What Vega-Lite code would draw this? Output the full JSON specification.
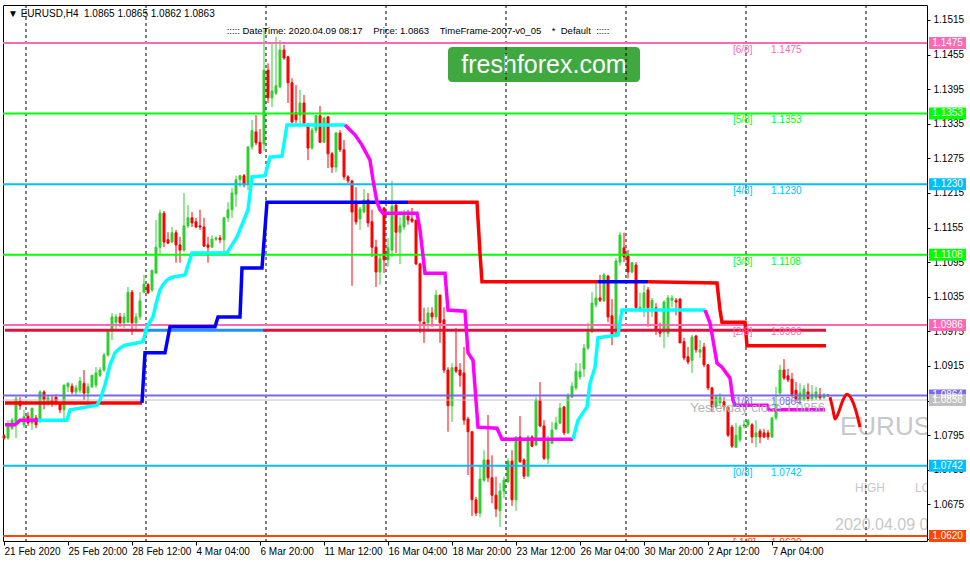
{
"$schema":"https://vega.github.io/schema/vega-lite/v6.json",
"width":924,"height":536,
"autosize":{"type":"none"},
"padding":{"left":3,"top":5,"right":43,"bottom":24},
"background":"#FFFFFF",
"config":{"view":{"stroke":"#000000","strokeWidth":1},"font":"Liberation Sans",
 "axis":{"labelFont":"Liberation Sans","labelFontSize":10,"labelColor":"#000000","tickColor":"#000000","domain":false,"grid":false,"titleOpacity":0,"labelOverlap":false,"labelSeparation":0,"labelBound":false}},
"resolve":{"scale":{"color":"independent"}},
"datasets":{
"candles":[
{"n":0,"o":1.0794,"h":1.0797,"l":1.0787,"c":1.0790},
{"n":1,"o":1.0790,"h":1.0821,"l":1.0787,"c":1.0813},
{"n":2,"o":1.0807,"h":1.0825,"l":1.0804,"c":1.0821},
{"n":3,"o":1.0816,"h":1.0863,"l":1.0790,"c":1.0858},
{"n":4,"o":1.0854,"h":1.0861,"l":1.0839,"c":1.0846},
{"n":5,"o":1.0813,"h":1.0839,"l":1.0808,"c":1.0827},
{"n":6,"o":1.0828,"h":1.0835,"l":1.0811,"c":1.0816},
{"n":7,"o":1.0816,"h":1.0842,"l":1.0804,"c":1.0842},
{"n":8,"o":1.0825,"h":1.0830,"l":1.0807,"c":1.0813},
{"n":9,"o":1.0821,"h":1.0873,"l":1.0816,"c":1.0870},
{"n":10,"o":1.0870,"h":1.0873,"l":1.0840,"c":1.0856},
{"n":11,"o":1.0851,"h":1.0865,"l":1.0846,"c":1.0860},
{"n":12,"o":1.0856,"h":1.0865,"l":1.0844,"c":1.0851},
{"n":13,"o":1.0861,"h":1.0866,"l":1.0847,"c":1.0851},
{"n":14,"o":1.0851,"h":1.0851,"l":1.0833,"c":1.0839},
{"n":15,"o":1.0839,"h":1.0882,"l":1.0821,"c":1.0882},
{"n":16,"o":1.0879,"h":1.0887,"l":1.0870,"c":1.0885},
{"n":17,"o":1.0880,"h":1.0885,"l":1.0866,"c":1.0870},
{"n":18,"o":1.0870,"h":1.0882,"l":1.0865,"c":1.0877},
{"n":19,"o":1.0873,"h":1.0896,"l":1.0868,"c":1.0889},
{"n":20,"o":1.0885,"h":1.0908,"l":1.0856,"c":1.0868},
{"n":21,"o":1.0868,"h":1.0885,"l":1.0853,"c":1.0879},
{"n":22,"o":1.0879,"h":1.0899,"l":1.0877,"c":1.0899},
{"n":23,"o":1.0882,"h":1.0913,"l":1.0877,"c":1.0903},
{"n":24,"o":1.0899,"h":1.0913,"l":1.0896,"c":1.0908},
{"n":25,"o":1.0908,"h":1.0938,"l":1.0905,"c":1.0934},
{"n":26,"o":1.0934,"h":1.0977,"l":1.0931,"c":1.0974},
{"n":27,"o":1.0977,"h":1.1007,"l":1.0960,"c":1.1000},
{"n":28,"o":1.0991,"h":1.1005,"l":1.0977,"c":1.1000},
{"n":29,"o":1.1000,"h":1.1007,"l":1.0983,"c":1.0990},
{"n":30,"o":1.0990,"h":1.1007,"l":1.0981,"c":1.1000},
{"n":31,"o":1.0991,"h":1.1052,"l":1.0990,"c":1.1043},
{"n":32,"o":1.1043,"h":1.1047,"l":1.0969,"c":1.0990},
{"n":33,"o":1.0990,"h":1.1007,"l":1.0977,"c":1.1000},
{"n":34,"o":1.1000,"h":1.1043,"l":1.0995,"c":1.1028},
{"n":35,"o":1.1043,"h":1.1073,"l":1.1042,"c":1.1057},
{"n":36,"o":1.1056,"h":1.1059,"l":1.1040,"c":1.1042},
{"n":37,"o":1.1047,"h":1.1081,"l":1.1043,"c":1.1081},
{"n":38,"o":1.1076,"h":1.1168,"l":1.1076,"c":1.1121},
{"n":39,"o":1.1121,"h":1.1186,"l":1.1108,"c":1.1180},
{"n":40,"o":1.1180,"h":1.1184,"l":1.1121,"c":1.1130},
{"n":41,"o":1.1134,"h":1.1147,"l":1.1128,"c":1.1128},
{"n":42,"o":1.1130,"h":1.1156,"l":1.1128,"c":1.1146},
{"n":43,"o":1.1146,"h":1.1151,"l":1.1094,"c":1.1125},
{"n":44,"o":1.1125,"h":1.1139,"l":1.1094,"c":1.1116},
{"n":45,"o":1.1116,"h":1.1215,"l":1.1113,"c":1.1158},
{"n":46,"o":1.1158,"h":1.1194,"l":1.1154,"c":1.1172},
{"n":47,"o":1.1172,"h":1.1182,"l":1.1156,"c":1.1163},
{"n":48,"o":1.1165,"h":1.1172,"l":1.1154,"c":1.1156},
{"n":49,"o":1.1158,"h":1.1186,"l":1.1151,"c":1.1156},
{"n":50,"o":1.1156,"h":1.1172,"l":1.1121,"c":1.1123},
{"n":51,"o":1.1125,"h":1.1139,"l":1.1094,"c":1.1121},
{"n":52,"o":1.1121,"h":1.1142,"l":1.1121,"c":1.1135},
{"n":53,"o":1.1135,"h":1.1140,"l":1.1132,"c":1.1137},
{"n":54,"o":1.1137,"h":1.1142,"l":1.1128,"c":1.1134},
{"n":55,"o":1.1134,"h":1.1173,"l":1.1113,"c":1.1172},
{"n":56,"o":1.1172,"h":1.1199,"l":1.1165,"c":1.1186},
{"n":57,"o":1.1186,"h":1.1224,"l":1.1172,"c":1.1215},
{"n":58,"o":1.1213,"h":1.1245,"l":1.1191,"c":1.1238},
{"n":59,"o":1.1238,"h":1.1246,"l":1.1225,"c":1.1245},
{"n":60,"o":1.1245,"h":1.1248,"l":1.1225,"c":1.1229},
{"n":61,"o":1.1232,"h":1.1295,"l":1.1220,"c":1.1295},
{"n":62,"o":1.1295,"h":1.1342,"l":1.1290,"c":1.1323},
{"n":63,"o":1.1321,"h":1.1350,"l":1.1298,"c":1.1302},
{"n":64,"o":1.1303,"h":1.1326,"l":1.1283,"c":1.1284},
{"n":65,"o":1.1300,"h":1.1498,"l":1.1288,"c":1.1428},
{"n":66,"o":1.1428,"h":1.1440,"l":1.1371,"c":1.1380},
{"n":67,"o":1.1380,"h":1.1475,"l":1.1364,"c":1.1392},
{"n":68,"o":1.1388,"h":1.1486,"l":1.1385,"c":1.1401},
{"n":69,"o":1.1399,"h":1.1480,"l":1.1397,"c":1.1463},
{"n":70,"o":1.1463,"h":1.1472,"l":1.1446,"c":1.1449},
{"n":71,"o":1.1451,"h":1.1453,"l":1.1371,"c":1.1406},
{"n":72,"o":1.1406,"h":1.1414,"l":1.1336,"c":1.1338},
{"n":73,"o":1.1354,"h":1.1402,"l":1.1336,"c":1.1342},
{"n":74,"o":1.1350,"h":1.1394,"l":1.1333,"c":1.1371},
{"n":75,"o":1.1371,"h":1.1385,"l":1.1333,"c":1.1336},
{"n":76,"o":1.1333,"h":1.1336,"l":1.1272,"c":1.1293},
{"n":77,"o":1.1293,"h":1.1328,"l":1.1290,"c":1.1324},
{"n":78,"o":1.1324,"h":1.1350,"l":1.1319,"c":1.1349},
{"n":79,"o":1.1349,"h":1.1366,"l":1.1302,"c":1.1303},
{"n":80,"o":1.1303,"h":1.1347,"l":1.1302,"c":1.1345},
{"n":81,"o":1.1347,"h":1.1349,"l":1.1258,"c":1.1283},
{"n":82,"o":1.1283,"h":1.1286,"l":1.1250,"c":1.1260},
{"n":83,"o":1.1260,"h":1.1321,"l":1.1251,"c":1.1319},
{"n":84,"o":1.1319,"h":1.1324,"l":1.1286,"c":1.1290},
{"n":85,"o":1.1290,"h":1.1307,"l":1.1238,"c":1.1243},
{"n":86,"o":1.1243,"h":1.1246,"l":1.1232,"c":1.1236},
{"n":87,"o":1.1236,"h":1.1238,"l":1.1054,"c":1.1182},
{"n":88,"o":1.1199,"h":1.1225,"l":1.1160,"c":1.1165},
{"n":89,"o":1.1170,"h":1.1191,"l":1.1151,"c":1.1187},
{"n":90,"o":1.1182,"h":1.1222,"l":1.1180,"c":1.1203},
{"n":91,"o":1.1203,"h":1.1215,"l":1.1156,"c":1.1163},
{"n":92,"o":1.1165,"h":1.1186,"l":1.1104,"c":1.1121},
{"n":93,"o":1.1121,"h":1.1134,"l":1.1052,"c":1.1078},
{"n":94,"o":1.1078,"h":1.1108,"l":1.1056,"c":1.1101},
{"n":95,"o":1.1189,"h":1.1191,"l":1.1076,"c":1.1099},
{"n":96,"o":1.1099,"h":1.1137,"l":1.1087,"c":1.1120},
{"n":97,"o":1.1116,"h":1.1236,"l":1.1104,"c":1.1192},
{"n":98,"o":1.1194,"h":1.1199,"l":1.1111,"c":1.1147},
{"n":99,"o":1.1147,"h":1.1173,"l":1.1092,"c":1.1158},
{"n":100,"o":1.1156,"h":1.1186,"l":1.1151,"c":1.1180},
{"n":101,"o":1.1175,"h":1.1186,"l":1.1160,"c":1.1168},
{"n":102,"o":1.1170,"h":1.1189,"l":1.1163,"c":1.1166},
{"n":103,"o":1.1168,"h":1.1168,"l":1.1090,"c":1.1092},
{"n":104,"o":1.1092,"h":1.1094,"l":1.0972,"c":1.0993},
{"n":105,"o":1.0991,"h":1.1016,"l":1.0955,"c":1.0988},
{"n":106,"o":1.0990,"h":1.1017,"l":1.0977,"c":1.1007},
{"n":107,"o":1.1007,"h":1.1017,"l":1.0983,"c":1.1000},
{"n":108,"o":1.1000,"h":1.1047,"l":1.0995,"c":1.1038},
{"n":109,"o":1.1038,"h":1.1038,"l":1.0955,"c":1.0990},
{"n":110,"o":1.0995,"h":1.1017,"l":1.0903,"c":1.0908},
{"n":111,"o":1.0908,"h":1.0913,"l":1.0801,"c":1.0846},
{"n":112,"o":1.0846,"h":1.0920,"l":1.0818,"c":1.0912},
{"n":113,"o":1.0913,"h":1.0981,"l":1.0903,"c":1.0906},
{"n":114,"o":1.0908,"h":1.0920,"l":1.0879,"c":1.0899},
{"n":115,"o":1.0903,"h":1.0948,"l":1.0813,"c":1.0821},
{"n":116,"o":1.0823,"h":1.0827,"l":1.0726,"c":1.0801},
{"n":117,"o":1.0801,"h":1.0802,"l":1.0655,"c":1.0683},
{"n":118,"o":1.0683,"h":1.0688,"l":1.0655,"c":1.0660},
{"n":119,"o":1.0660,"h":1.0743,"l":1.0653,"c":1.0719},
{"n":120,"o":1.0717,"h":1.0769,"l":1.0714,"c":1.0752},
{"n":121,"o":1.0752,"h":1.0830,"l":1.0714,"c":1.0721},
{"n":122,"o":1.0721,"h":1.0760,"l":1.0677,"c":1.0691},
{"n":123,"o":1.0691,"h":1.0723,"l":1.0653,"c":1.0667},
{"n":124,"o":1.0664,"h":1.0712,"l":1.0636,"c":1.0698},
{"n":125,"o":1.0698,"h":1.0723,"l":1.0686,"c":1.0717},
{"n":126,"o":1.0714,"h":1.0755,"l":1.0712,"c":1.0750},
{"n":127,"o":1.0750,"h":1.0769,"l":1.0672,"c":1.0683},
{"n":128,"o":1.0683,"h":1.0792,"l":1.0664,"c":1.0792},
{"n":129,"o":1.0792,"h":1.0828,"l":1.0747,"c":1.0749},
{"n":130,"o":1.0752,"h":1.0755,"l":1.0719,"c":1.0724},
{"n":131,"o":1.0724,"h":1.0795,"l":1.0723,"c":1.0792},
{"n":132,"o":1.0792,"h":1.0795,"l":1.0774,"c":1.0776},
{"n":133,"o":1.0778,"h":1.0861,"l":1.0776,"c":1.0856},
{"n":134,"o":1.0856,"h":1.0887,"l":1.0809,"c":1.0811},
{"n":135,"o":1.0811,"h":1.0821,"l":1.0752,"c":1.0755},
{"n":136,"o":1.0754,"h":1.0794,"l":1.0745,"c":1.0785},
{"n":137,"o":1.0781,"h":1.0818,"l":1.0781,"c":1.0804},
{"n":138,"o":1.0806,"h":1.0827,"l":1.0804,"c":1.0816},
{"n":139,"o":1.0816,"h":1.0851,"l":1.0814,"c":1.0842},
{"n":140,"o":1.0844,"h":1.0846,"l":1.0795,"c":1.0799},
{"n":141,"o":1.0799,"h":1.0868,"l":1.0797,"c":1.0863},
{"n":142,"o":1.0861,"h":1.0887,"l":1.0860,"c":1.0880},
{"n":143,"o":1.0877,"h":1.0920,"l":1.0873,"c":1.0906},
{"n":144,"o":1.0896,"h":1.0920,"l":1.0891,"c":1.0905},
{"n":145,"o":1.0910,"h":1.0953,"l":1.0896,"c":1.0946},
{"n":146,"o":1.0946,"h":1.0990,"l":1.0943,"c":1.0974},
{"n":147,"o":1.0974,"h":1.1043,"l":1.0972,"c":1.1024},
{"n":148,"o":1.1021,"h":1.1059,"l":1.1017,"c":1.1033},
{"n":149,"o":1.1033,"h":1.1073,"l":1.1026,"c":1.1029},
{"n":150,"o":1.1028,"h":1.1076,"l":1.1026,"c":1.1073},
{"n":151,"o":1.1071,"h":1.1073,"l":1.0991,"c":1.1000},
{"n":152,"o":1.1002,"h":1.1031,"l":1.0951,"c":1.0969},
{"n":153,"o":1.0969,"h":1.1102,"l":1.0965,"c":1.1097},
{"n":154,"o":1.1095,"h":1.1147,"l":1.1089,"c":1.1142},
{"n":155,"o":1.1120,"h":1.1146,"l":1.1095,"c":1.1104},
{"n":156,"o":1.1106,"h":1.1116,"l":1.1067,"c":1.1078},
{"n":157,"o":1.1078,"h":1.1095,"l":1.1076,"c":1.1094},
{"n":158,"o":1.1090,"h":1.1095,"l":1.1012,"c":1.1016},
{"n":159,"o":1.1012,"h":1.1042,"l":1.1009,"c":1.1017},
{"n":160,"o":1.1016,"h":1.1056,"l":1.1000,"c":1.1042},
{"n":161,"o":1.1047,"h":1.1052,"l":1.0983,"c":1.1016},
{"n":162,"o":1.1016,"h":1.1033,"l":1.1000,"c":1.1029},
{"n":163,"o":1.1016,"h":1.1024,"l":1.0969,"c":1.0977},
{"n":164,"o":1.0977,"h":1.0990,"l":1.0965,"c":1.0972},
{"n":165,"o":1.0974,"h":1.1029,"l":1.0946,"c":1.1026},
{"n":166,"o":1.0972,"h":1.1038,"l":1.0965,"c":1.1033},
{"n":167,"o":1.1029,"h":1.1038,"l":1.1017,"c":1.1033},
{"n":168,"o":1.1029,"h":1.1033,"l":1.1003,"c":1.1026},
{"n":169,"o":1.1031,"h":1.1033,"l":1.0955,"c":1.0955},
{"n":170,"o":1.0957,"h":1.0964,"l":1.0925,"c":1.0929},
{"n":171,"o":1.0931,"h":1.0948,"l":1.0918,"c":1.0922},
{"n":172,"o":1.0925,"h":1.0969,"l":1.0903,"c":1.0965},
{"n":173,"o":1.0967,"h":1.0969,"l":1.0938,"c":1.0943},
{"n":174,"o":1.0939,"h":1.0960,"l":1.0929,"c":1.0943},
{"n":175,"o":1.0948,"h":1.0955,"l":1.0913,"c":1.0917},
{"n":176,"o":1.0917,"h":1.0918,"l":1.0873,"c":1.0877},
{"n":177,"o":1.0877,"h":1.0879,"l":1.0835,"c":1.0844},
{"n":178,"o":1.0844,"h":1.0863,"l":1.0842,"c":1.0861},
{"n":179,"o":1.0851,"h":1.0868,"l":1.0847,"c":1.0860},
{"n":180,"o":1.0853,"h":1.0861,"l":1.0839,"c":1.0844},
{"n":181,"o":1.0844,"h":1.0846,"l":1.0792,"c":1.0795},
{"n":182,"o":1.0809,"h":1.0813,"l":1.0773,"c":1.0776},
{"n":183,"o":1.0774,"h":1.0816,"l":1.0773,"c":1.0795},
{"n":184,"o":1.0787,"h":1.0813,"l":1.0783,"c":1.0809},
{"n":185,"o":1.0811,"h":1.0821,"l":1.0807,"c":1.0813},
{"n":186,"o":1.0813,"h":1.0823,"l":1.0809,"c":1.0820},
{"n":187,"o":1.0813,"h":1.0816,"l":1.0781,"c":1.0792},
{"n":188,"o":1.0792,"h":1.0821,"l":1.0774,"c":1.0799},
{"n":189,"o":1.0802,"h":1.0806,"l":1.0781,"c":1.0792},
{"n":190,"o":1.0799,"h":1.0806,"l":1.0790,"c":1.0792},
{"n":191,"o":1.0799,"h":1.0804,"l":1.0787,"c":1.0792},
{"n":192,"o":1.0792,"h":1.0827,"l":1.0790,"c":1.0825},
{"n":193,"o":1.0825,"h":1.0879,"l":1.0821,"c":1.0847},
{"n":194,"o":1.0868,"h":1.0917,"l":1.0865,"c":1.0908},
{"n":195,"o":1.0908,"h":1.0927,"l":1.0891,"c":1.0894},
{"n":196,"o":1.0898,"h":1.0910,"l":1.0887,"c":1.0891},
{"n":197,"o":1.0892,"h":1.0903,"l":1.0861,"c":1.0865},
{"n":198,"o":1.0873,"h":1.0887,"l":1.0854,"c":1.0856},
{"n":199,"o":1.0856,"h":1.0885,"l":1.0853,"c":1.0868},
{"n":200,"o":1.0856,"h":1.0882,"l":1.0854,"c":1.0875},
{"n":201,"o":1.0870,"h":1.0885,"l":1.0854,"c":1.0858},
{"n":202,"o":1.0858,"h":1.0882,"l":1.0854,"c":1.0866},
{"n":203,"o":1.0860,"h":1.0879,"l":1.0856,"c":1.0870},
{"n":204,"o":1.0865,"h":1.0877,"l":1.0856,"c":1.0860},
{"n":205,"o":1.0860,"h":1.0868,"l":1.0858,"c":1.0865},
{"n":206,"o":1.0865,"h":1.0865,"l":1.0862,"c":1.0863}
],
"grid":[{"n":5.5},{"n":35.5},{"n":65.5},{"n":95.5},{"n":125.5},{"n":155.5},{"n":185.5},{"n":215.5}],
"levels":[
{"lvl":"[6/8]","p":1.1475},{"lvl":"[5/8]","p":1.1353},{"lvl":"[4/8]","p":1.1230},{"lvl":"[3/8]","p":1.1108},
{"lvl":"[2/8]","p":1.0986},{"lvl":"[1/8]","p":1.0864},{"lvl":"[0/8]","p":1.0742},{"lvl":"[-1/8]","p":1.0620},
{"lvl":"bid","p":1.0856}
],
"daily":[
{"n1":0.25,"n2":34.75,"p":1.0977,"dir":"down"},
{"n1":34.75,"n2":64.75,"p":1.0977,"dir":"up"},
{"n1":64.75,"n2":205.5,"p":1.0977,"dir":"down"}
],
"slow":[
{"seg":"b1","dir":"down","n":0.25,"p":1.0851},{"seg":"b1","dir":"down","n":34.5,"p":1.0851},
{"seg":"b2","dir":"up","n":34.5,"p":1.0851},{"seg":"b2","dir":"up","n":35.25,"p":1.0938},{"seg":"b2","dir":"up","n":40.25,"p":1.0938},{"seg":"b2","dir":"up","n":41.5,"p":1.0983},{"seg":"b2","dir":"up","n":52.75,"p":1.0983},{"seg":"b2","dir":"up","n":53.5,"p":1.1000},{"seg":"b2","dir":"up","n":59,"p":1.1000},{"seg":"b2","dir":"up","n":59.5,"p":1.1085},{"seg":"b2","dir":"up","n":64.5,"p":1.1085},{"seg":"b2","dir":"up","n":65.75,"p":1.1199},{"seg":"b2","dir":"up","n":101,"p":1.1199},
{"seg":"b3","dir":"down","n":101,"p":1.1199},{"seg":"b3","dir":"down","n":118.25,"p":1.1199},{"seg":"b3","dir":"down","n":119,"p":1.1111},{"seg":"b3","dir":"down","n":119.5,"p":1.1061},{"seg":"b3","dir":"down","n":148.5,"p":1.1061},
{"seg":"b4","dir":"up","n":148.5,"p":1.1061},{"seg":"b4","dir":"up","n":161,"p":1.1061},
{"seg":"b5","dir":"down","n":161,"p":1.1061},{"seg":"b5","dir":"down","n":178.25,"p":1.1059},{"seg":"b5","dir":"down","n":179,"p":1.1012},{"seg":"b5","dir":"down","n":179.5,"p":1.0991},{"seg":"b5","dir":"down","n":185.25,"p":1.0991},{"seg":"b5","dir":"down","n":185.75,"p":1.0950},{"seg":"b5","dir":"down","n":205.5,"p":1.0950}
],
"fast":[
{"seg":"a1","dir":"down","n":0.25,"p":1.0813},{"seg":"a1","dir":"down","n":2.75,"p":1.0813},{"seg":"a1","dir":"down","n":4,"p":1.0821},{"seg":"a1","dir":"down","n":8.5,"p":1.0821},
{"seg":"a2","dir":"up","n":8.5,"p":1.0821},{"seg":"a2","dir":"up","n":15.75,"p":1.0821},{"seg":"a2","dir":"up","n":16.5,"p":1.0839},{"seg":"a2","dir":"up","n":23.25,"p":1.0847},{"seg":"a2","dir":"up","n":24,"p":1.0856},{"seg":"a2","dir":"up","n":25.25,"p":1.0882},{"seg":"a2","dir":"up","n":26.5,"p":1.0917},{"seg":"a2","dir":"up","n":27.75,"p":1.0938},{"seg":"a2","dir":"up","n":29,"p":1.0946},{"seg":"a2","dir":"up","n":30.25,"p":1.0951},{"seg":"a2","dir":"up","n":33.25,"p":1.0955},{"seg":"a2","dir":"up","n":34.75,"p":1.0957},{"seg":"a2","dir":"up","n":35.75,"p":1.0983},{"seg":"a2","dir":"up","n":37.25,"p":1.1000},{"seg":"a2","dir":"up","n":38.25,"p":1.1029},{"seg":"a2","dir":"up","n":39,"p":1.1047},{"seg":"a2","dir":"up","n":39.75,"p":1.1056},{"seg":"a2","dir":"up","n":40.75,"p":1.1064},{"seg":"a2","dir":"up","n":42,"p":1.1069},{"seg":"a2","dir":"up","n":45.25,"p":1.1073},{"seg":"a2","dir":"up","n":47,"p":1.1111},{"seg":"a2","dir":"up","n":55.75,"p":1.1111},{"seg":"a2","dir":"up","n":57,"p":1.1125},{"seg":"a2","dir":"up","n":58.25,"p":1.1139},{"seg":"a2","dir":"up","n":59.5,"p":1.1160},{"seg":"a2","dir":"up","n":61,"p":1.1186},{"seg":"a2","dir":"up","n":62,"p":1.1243},{"seg":"a2","dir":"up","n":65.25,"p":1.1245},{"seg":"a2","dir":"up","n":66.5,"p":1.1277},{"seg":"a2","dir":"up","n":69.5,"p":1.1279},{"seg":"a2","dir":"up","n":70.75,"p":1.1333},{"seg":"a2","dir":"up","n":85.25,"p":1.1333},
{"seg":"a3","dir":"down","n":85.25,"p":1.1333},{"seg":"a3","dir":"down","n":87.75,"p":1.1316},{"seg":"a3","dir":"down","n":89.5,"p":1.1298},{"seg":"a3","dir":"down","n":91.5,"p":1.1272},{"seg":"a3","dir":"down","n":92.25,"p":1.1238},{"seg":"a3","dir":"down","n":93.25,"p":1.1199},{"seg":"a3","dir":"down","n":94,"p":1.1186},{"seg":"a3","dir":"down","n":94.75,"p":1.1180},{"seg":"a3","dir":"down","n":103.25,"p":1.1180},{"seg":"a3","dir":"down","n":104,"p":1.1151},{"seg":"a3","dir":"down","n":105.25,"p":1.1076},{"seg":"a3","dir":"down","n":110.25,"p":1.1076},{"seg":"a3","dir":"down","n":111,"p":1.1012},{"seg":"a3","dir":"down","n":115.25,"p":1.1010},{"seg":"a3","dir":"down","n":116,"p":1.0938},{"seg":"a3","dir":"down","n":117.25,"p":1.0925},{"seg":"a3","dir":"down","n":118.5,"p":1.0809},{"seg":"a3","dir":"down","n":123.25,"p":1.0807},{"seg":"a3","dir":"down","n":124.5,"p":1.0788},{"seg":"a3","dir":"down","n":142.25,"p":1.0788},
{"seg":"a4","dir":"up","n":142.25,"p":1.0788},{"seg":"a4","dir":"up","n":143.5,"p":1.0821},{"seg":"a4","dir":"up","n":145.75,"p":1.0844},{"seg":"a4","dir":"up","n":146.5,"p":1.0885},{"seg":"a4","dir":"up","n":147.75,"p":1.0913},{"seg":"a4","dir":"up","n":148.5,"p":1.0964},{"seg":"a4","dir":"up","n":153.5,"p":1.0969},{"seg":"a4","dir":"up","n":154.5,"p":1.1012},{"seg":"a4","dir":"up","n":175.25,"p":1.1012},
{"seg":"a5","dir":"down","n":175.25,"p":1.1012},{"seg":"a5","dir":"down","n":176.5,"p":1.0990},{"seg":"a5","dir":"down","n":178.25,"p":1.0920},{"seg":"a5","dir":"down","n":179.5,"p":1.0913},{"seg":"a5","dir":"down","n":181.5,"p":1.0894},{"seg":"a5","dir":"down","n":182.25,"p":1.0856},{"seg":"a5","dir":"down","n":182.75,"p":1.0847},{"seg":"a5","dir":"down","n":190.75,"p":1.0847},{"seg":"a5","dir":"down","n":191.25,"p":1.0839},{"seg":"a5","dir":"down","n":205.25,"p":1.0839}
],
"fc":[
{"n":206.5,"p":1.0861},{"n":207.25,"p":1.0839},{"n":207.75,"p":1.0823},{"n":208.5,"p":1.0832},{"n":209.75,"p":1.0856},{"n":210.75,"p":1.0866},{"n":212,"p":1.0856},{"n":213,"p":1.0837},{"n":214,"p":1.0809}
]
},
"layer":[
{"data":{"name":"candles"},
 "mark":{"type":"rule","strokeWidth":1},
 "encoding":{
  "x":{"field":"n","type":"quantitative","scale":{"domain":[-0.25,230.75],"nice":false,"zero":false,"padding":0},
   "axis":{"orient":"bottom","values":[0,16,32,48,64,80,96,112,128,144,160,176,192],"tickCount":30,"labelExpr":"['21 Feb 2020','25 Feb 20:00','28 Feb 12:00','4 Mar 04:00','6 Mar 20:00','11 Mar 12:00','16 Mar 04:00','18 Mar 20:00','23 Mar 12:00','26 Mar 04:00','30 Mar 20:00','2 Apr 12:00','7 Apr 04:00'][round(datum.value/16)]",
   "labelAlign":"left","labelBaseline":"top","labelPadding":1,"tickSize":4,"labelOverlap":false,"labelFlush":false,"title":""}},
  "y":{"field":"l","type":"quantitative","scale":{"domain":[1.061153,1.154101],"nice":false,"zero":false,"padding":0},
   "axis":{"orient":"right","values":[1.0615,1.0675,1.0735,1.0795,1.0855,1.0915,1.0975,1.1035,1.1095,1.1155,1.1215,1.1275,1.1335,1.1395,1.1455,1.1515],"tickCount":30,"format":".4f","tickSize":3,"labelPadding":3,"labelOverlap":false,"labelFlush":false,"labelBound":false,"labelSeparation":0,"title":""}},
  "y2":{"field":"h"},
  "color":{"condition":{"test":"datum.c >= datum.o","value":"#32CD32"},"value":"#FF0000"}}},
{"data":{"name":"candles"},
 "mark":{"type":"bar","width":2,"strokeWidth":1},
 "encoding":{
  "x":{"field":"n","type":"quantitative","scale":{"domain":[-0.25,230.75],"nice":false,"zero":false,"padding":0}},
  "y":{"field":"o","type":"quantitative","scale":{"domain":[1.061153,1.154101],"nice":false,"zero":false,"padding":0}},
  "y2":{"field":"c"},
  "color":{"condition":{"test":"datum.c >= datum.o","value":"#32CD32"},"value":"#FF0000"},
  "stroke":{"condition":{"test":"datum.c >= datum.o","value":"#32CD32"},"value":"#FF0000"}}},
{"data":{"values":[{"label":"freshforex.com"}]},
 "mark":{"type":"rect","color":"#3FA93F","cornerRadius":4},
 "encoding":{"x":{"datum":111,"type":"quantitative"},"x2":{"datum":159},
 "y":{"datum":1.14682,"type":"quantitative"},"y2":{"datum":1.14075}}},
{"data":{"values":[{"label":"freshforex.com"}]},
 "mark":{"type":"text","color":"#FFFFFF","fontSize":25,"align":"center","baseline":"middle","font":"Liberation Sans"},
 "encoding":{"x":{"datum":135,"type":"quantitative"},"y":{"datum":1.14378,"type":"quantitative"},"text":{"field":"label"}}},
{"data":{"values":[{"label":"EURUSD"}]},
 "mark":{"type":"text","color":"#C8C8C8","fontSize":26,"align":"left","baseline":"middle","clip":true},
 "encoding":{"x":{"datum":209,"type":"quantitative"},"y":{"datum":1.0809,"type":"quantitative"},"text":{"field":"label"}}},
{"data":{"values":[{"label":"HIGH","n":212.75},{"label":"LOW","n":227.75}]},
 "mark":{"type":"text","color":"#C8C8C8","fontSize":12,"align":"left","baseline":"middle","clip":true},
 "encoding":{"x":{"field":"n","type":"quantitative"},"y":{"datum":1.0703,"type":"quantitative"},"text":{"field":"label"}}},
{"data":{"values":[{"label":"2020.04.09 08:17"}]},
 "mark":{"type":"text","color":"#C8C8C8","fontSize":16,"align":"left","baseline":"middle","clip":true},
 "encoding":{"x":{"datum":207.75,"type":"quantitative"},"y":{"datum":1.0639,"type":"quantitative"},"text":{"field":"label"}}},
{"data":{"name":"grid"},
 "mark":{"type":"rule","color":"#000000","strokeWidth":1,"strokeDash":[3,3]},
 "encoding":{"x":{"field":"n","type":"quantitative"}}},
{"data":{"name":"levels"},
 "transform":[{"filter":"datum.lvl != 'bid'"}],
 "mark":{"type":"rule","strokeWidth":2},
 "encoding":{
  "y":{"field":"p","type":"quantitative"},
  "color":{"field":"lvl","type":"nominal","legend":null,"scale":{"domain":["[6/8]","[5/8]","[4/8]","[3/8]","[2/8]","[1/8]","[0/8]","[-1/8]","bid"],"range":["#FF69B4","#00FF00","#00BFFF","#00FF00","#FF69B4","#7B68EE","#00BFFF","#FF4500","#C0C0C0"]}}}},
{"data":{"name":"levels"},
 "transform":[{"filter":"datum.lvl == 'bid'"}],
 "mark":{"type":"rule","strokeWidth":1,"color":"#C0C0C0"},
 "encoding":{"y":{"field":"p","type":"quantitative"}}},
{"data":{"name":"daily"},
 "mark":{"type":"rule","strokeWidth":3},
 "encoding":{
  "x":{"field":"n1","type":"quantitative"},"x2":{"field":"n2"},
  "y":{"field":"p","type":"quantitative"},
  "color":{"field":"dir","type":"nominal","legend":null,"scale":{"domain":["up","down"],"range":["#1E90FF","#DC143C"]}}}},
{"data":{"name":"slow"},
 "mark":{"type":"line","strokeWidth":3.5},
 "encoding":{
  "x":{"field":"n","type":"quantitative"},
  "y":{"field":"p","type":"quantitative"},
  "detail":{"field":"seg"},
  "color":{"field":"dir","type":"nominal","legend":null,"scale":{"domain":["up","down"],"range":["#0000FF","#FF0000"]}}}},
{"data":{"name":"fast"},
 "mark":{"type":"line","strokeWidth":3.5},
 "encoding":{
  "x":{"field":"n","type":"quantitative"},
  "y":{"field":"p","type":"quantitative"},
  "detail":{"field":"seg"},
  "color":{"field":"dir","type":"nominal","legend":null,"scale":{"domain":["up","down"],"range":["#00FFFF","#FF00FF"]}}}},
{"data":{"name":"fc"},
 "mark":{"type":"line","strokeWidth":3,"color":"#FF0000","interpolate":"monotone"},
 "encoding":{"x":{"field":"n","type":"quantitative"},"y":{"field":"p","type":"quantitative"}}},
{"data":{"values":[{"label":"Yesterday close 1.0856"}]},
 "mark":{"type":"text","color":"#B4B4B4","fontSize":13,"align":"right","baseline":"middle"},
 "encoding":{"x":{"datum":205.25,"type":"quantitative"},"y":{"datum":1.0843,"type":"quantitative"},"text":{"field":"label"}}},
{"data":{"name":"levels"},
 "transform":[{"filter":"datum.lvl != 'bid'"}],
 "mark":{"type":"text","fontSize":10,"align":"left","baseline":"top","dy":2,"clip":true},
 "encoding":{
  "x":{"datum":182.25,"type":"quantitative"},
  "y":{"field":"p","type":"quantitative"},
  "text":{"field":"lvl"},
  "color":{"field":"lvl","type":"nominal","legend":null,"scale":{"domain":["[6/8]","[5/8]","[4/8]","[3/8]","[2/8]","[1/8]","[0/8]","[-1/8]","bid"],"range":["#FF69B4","#00FF00","#00BFFF","#00FF00","#FF69B4","#7B68EE","#00BFFF","#FF4500","#C0C0C0"]}}}},
{"data":{"name":"levels"},
 "transform":[{"filter":"datum.lvl != 'bid'"}],
 "mark":{"type":"text","fontSize":10,"align":"left","baseline":"top","dy":2,"clip":true},
 "encoding":{
  "x":{"datum":191.75,"type":"quantitative"},
  "y":{"field":"p","type":"quantitative"},
  "text":{"field":"p","type":"quantitative","format":".4f"},
  "color":{"field":"lvl","type":"nominal","legend":null,"scale":{"domain":["[6/8]","[5/8]","[4/8]","[3/8]","[2/8]","[1/8]","[0/8]","[-1/8]","bid"],"range":["#FF69B4","#00FF00","#00BFFF","#00FF00","#FF69B4","#7B68EE","#00BFFF","#FF4500","#C0C0C0"]}}}},
{"data":{"values":[{"label":"\u25bc EURUSD,H4\u00a0\u00a01.0865 1.0865 1.0862 1.0863"}]},
 "mark":{"type":"text","color":"#000000","fontSize":10,"align":"left","baseline":"middle"},
 "encoding":{"x":{"datum":1,"type":"quantitative"},"y":{"datum":1.15255,"type":"quantitative"},"text":{"field":"label"}}},
{"data":{"values":[{"label":"::::: DateTime: 2020.04.09 08:17\u00a0\u00a0\u00a0\u00a0Price: 1.0863\u00a0\u00a0\u00a0\u00a0TimeFrame-2007-v0_05\u00a0\u00a0\u00a0\u00a0*\u00a0\u00a0Default\u00a0\u00a0:::::"}]},
 "mark":{"type":"text","color":"#000000","fontSize":9.5,"align":"center","baseline":"middle"},
 "encoding":{"x":{"datum":103.5,"type":"quantitative"},"y":{"datum":1.14959,"type":"quantitative"},"text":{"field":"label"}}},
{"data":{"name":"levels"},
 "mark":{"type":"rect","yOffset":-6,"y2Offset":6,"clip":false},
 "encoding":{
  "x":{"datum":231.25,"type":"quantitative"},"x2":{"datum":240.5},
  "y":{"field":"p","type":"quantitative"},"y2":{"field":"p"},
  "color":{"field":"lvl","type":"nominal","legend":null,"scale":{"domain":["[6/8]","[5/8]","[4/8]","[3/8]","[2/8]","[1/8]","[0/8]","[-1/8]","bid"],"range":["#FF69B4","#00FF00","#00BFFF","#00FF00","#FF69B4","#7B68EE","#00BFFF","#FF4500","#C0C0C0"]}}}},
{"data":{"name":"levels"},
 "mark":{"type":"text","fontSize":10,"color":"#FFFFFF","align":"center","baseline":"middle","clip":false},
 "encoding":{
  "x":{"datum":235.9,"type":"quantitative"},
  "y":{"field":"p","type":"quantitative"},
  "text":{"field":"p","type":"quantitative","format":".4f"}}}
]
}
